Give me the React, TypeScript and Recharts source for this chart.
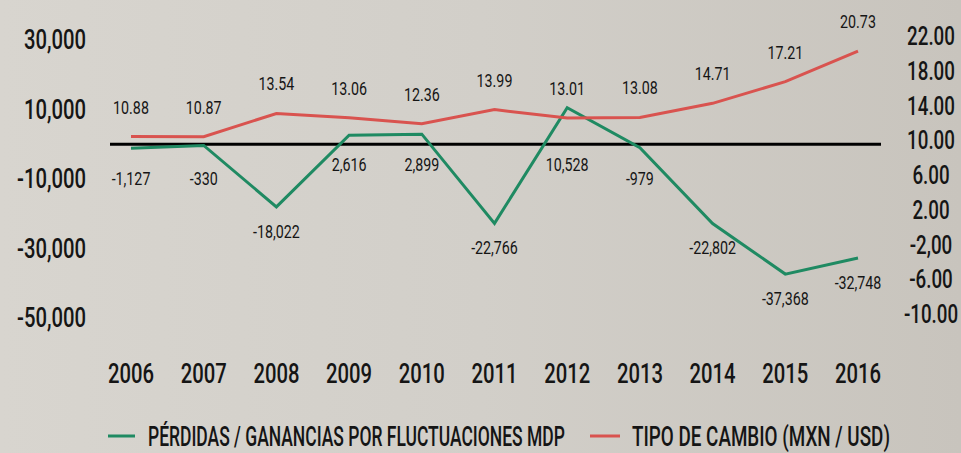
import React from 'react'
import {
  LineChart,
  Line,
  XAxis,
  YAxis,
  ReferenceLine,
  LabelList,
  Legend,
} from 'recharts'

const years = ['2006', '2007', '2008', '2009', '2010', '2011', '2012', '2013', '2014', '2015', '2016']
const perdidas = [-1127, -330, -18022, 2616, 2899, -22766, 10528, -979, -22802, -37368, -32748]
const tipoCambio = [10.88, 10.87, 13.54, 13.06, 12.36, 13.99, 13.01, 13.08, 14.71, 17.21, 20.73]

const leftTicks = [-50000, -30000, -10000, 10000, 30000]
const rightTicks = [-10, -6, -2, 2, 6, 10, 14, 18, 22]
const rightTickLabels = ['-10.00', '-6.00', '-2,00', '2.00', '6.00', '10.00', '14.00', '18.00', '22.00']

const legendLabels = ['PÉRDIDAS / GANANCIAS POR FLUCTUACIONES MDP', 'TIPO DE CAMBIO (MXN / USD)']

const GREEN = '#1f8a62'
const RED = '#d9534f'
const INK = '#151515'
const FONT = 'Roboto, "Noto Sans", sans-serif'
const SQUEEZE = 0.75 // no condensed face installed, so narrow the glyphs by hand

const data = years.map((year, i) => ({
  year,
  perdidas: perdidas[i],
  tipo: tipoCambio[i],
}))

const fmtThousands = (v: number) => v.toLocaleString('en-US')

const PLOT_TOP = 40
const PLOT_BOTTOM = 318
const zeroY = PLOT_TOP + (30000 / 80000) * (PLOT_BOTTOM - PLOT_TOP)

// measure a string so it can be squeezed to a target width
let ctx: CanvasRenderingContext2D | null = null
const measure = (str: string, size: number, weight = 500) => {
  if (!ctx) ctx = document.createElement('canvas').getContext('2d')
  if (!ctx) return str.length * size * 0.55
  ctx.font = `${weight} ${size}px Roboto`
  return ctx.measureText(str).width
}

// condensed text helper
const CText = ({ x, y, size, anchor = 'middle', weight = 500, sx = SQUEEZE, children }: any) => (
  <text
    transform={`translate(${x},${y}) scale(${sx},1)`}
    textAnchor={anchor}
    fontSize={size}
    fontWeight={weight}
    fontFamily={FONT}
    fill={INK}
  >
    {children}
  </text>
)

const RedLabel = (props: any) => {
  const { x, y, value } = props
  return <CText x={x} y={y - 23} size={19} weight={400}>{Number(value).toFixed(2)}</CText>
}

const GreenLabel = (props: any) => {
  const { x, y, value } = props
  const cy = value > 0 ? zeroY + 20 : Math.max(y + 24, zeroY + 34)
  return <CText x={x} y={cy + 7} size={19} weight={400}>{fmtThousands(value)}</CText>
}

const YearTick = (props: any) => {
  const { x, y, payload } = props
  return <CText x={x} y={y + 20} size={27}>{payload.value}</CText>
}

const LeftTick = (props: any) => {
  const { x, y, payload } = props
  return <CText x={x} y={y + 9} size={27} anchor="end">{fmtThousands(payload.value)}</CText>
}

const RightTick = (props: any) => {
  const { x, y, payload } = props
  const idx = rightTicks.indexOf(payload.value)
  return <CText x={x + 73} y={y + 5} size={25}>{rightTickLabels[idx]}</CText>
}

const ZeroLine = (props: any) => {
  const { x1, y1, x2, y2 } = props
  return <line x1={x1 - 21} y1={y1} x2={x2 + 23} y2={y2} stroke="#000" strokeWidth={3} />
}

const LegendText = ({ x, width, children }: any) => (
  <CText x={x} y={32} size={28} anchor="start" sx={width / measure(children, 28)}>
    {children}
  </CText>
)

const ChartLegend = () => (
  <svg width={961} height={39} style={{ display: 'block', overflow: 'visible' }}>
    <line x1={108} x2={135} y1={22} y2={22} stroke={GREEN} strokeWidth={3} />
    <LegendText x={148} width={417}>{legendLabels[0]}</LegendText>
    <line x1={590} x2={620} y1={22} y2={22} stroke={RED} strokeWidth={3} />
    <LegendText x={632} width={258}>{legendLabels[1]}</LegendText>
  </svg>
)

export default function App() {
  return (
    <div
      style={{
        position: 'absolute',
        left: 0,
        top: 0,
        width: 961,
        height: 453,
        background: 'linear-gradient(90deg, #d8d5cf 0%, #d2cfc9 50%, #c8c4bd 100%)',
        fontFamily: FONT,
      }}
    >
      <LineChart width={961} height={453} data={data} margin={{ top: PLOT_TOP, right: 0, left: 0, bottom: 0 }}>
        <XAxis
          dataKey="year"
          height={453 - PLOT_BOTTOM}
          axisLine={false}
          tickLine={false}
          tickSize={0}
          tickMargin={45}
          interval={0}
          tick={<YearTick />}
        />
        <YAxis
          yAxisId="left"
          orientation="left"
          width={131}
          domain={[-50000, 30000]}
          ticks={leftTicks}
          axisLine={false}
          tickLine={false}
          tickSize={0}
          tickMargin={45}
          tick={<LeftTick />}
        />
        <YAxis
          yAxisId="right"
          orientation="right"
          width={103}
          domain={[-10, 22]}
          ticks={rightTicks}
          axisLine={false}
          tickLine={false}
          tickSize={0}
          tickMargin={0}
          tick={<RightTick />}
        />
        <ReferenceLine yAxisId="left" y={0} shape={<ZeroLine />} ifOverflow="visible" />
        <Line
          yAxisId="left"
          type="linear"
          dataKey="perdidas"
          stroke={GREEN}
          strokeWidth={3}
          dot={false}
          activeDot={false}
          isAnimationActive={false}
        >
          <LabelList dataKey="perdidas" content={<GreenLabel />} />
        </Line>
        <Line
          yAxisId="right"
          type="linear"
          dataKey="tipo"
          stroke={RED}
          strokeWidth={3}
          dot={false}
          activeDot={false}
          isAnimationActive={false}
        >
          <LabelList dataKey="tipo" content={<RedLabel />} />
        </Line>
        <Legend
          layout="horizontal"
          verticalAlign="middle"
          align="center"
          wrapperStyle={{ top: 414, left: 0, width: 961 }}
          content={<ChartLegend />}
        />
      </LineChart>
    </div>
  )
}
